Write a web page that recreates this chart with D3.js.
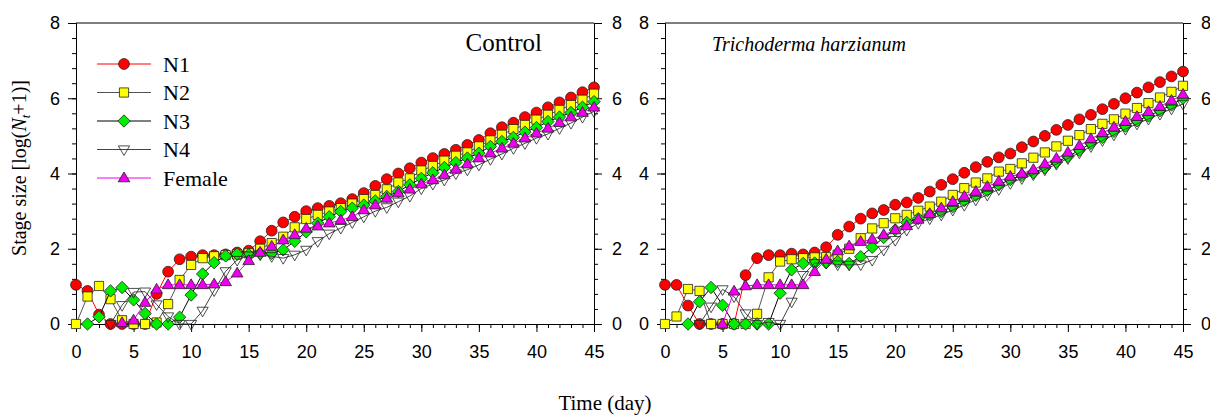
<!DOCTYPE html>
<html>
<head>
<meta charset="utf-8">
<script src="https://cdn.jsdelivr.net/npm/d3@7"></script>
<style>
  body { margin: 0; background: #fff; }
  .axis path, .axis line { stroke: #000; stroke-width: 1; }
  .axis text { font-family: "Liberation Sans", Arial, sans-serif; font-size: 18px; fill: #000; }
  .serif { font-family: "Liberation Serif", "Times New Roman", serif; fill: #000; }
</style>
</head>
<body>
<svg id="chart" width="1210" height="417"></svg>
<script>
const days = [0,1,2,3,4,5,6,7,8,9,10,11,12,13,14,15,16,17,18,19,20,21,22,23,24,25,26,27,28,29,30,31,32,33,34,35,36,37,38,39,40,41,42,43,44,45];
const xTicks = [0,5,10,15,20,25,30,35,40,45];
const yTicks = [0,2,4,6,8];
const seriesNames = ["N1","N2","N3","N4","Female"];

// Control (null = not plotted yet)
const controlN1 = [1.04,0.88,0.25,0,0,0,0,0.8,1.39,1.72,1.79,1.83,1.83,1.85,1.9,1.95,2.2,2.48,2.7,2.85,3.0,3.08,3.14,3.21,3.32,3.48,3.67,3.85,4.0,4.14,4.29,4.41,4.52,4.63,4.76,4.89,5.07,5.23,5.35,5.5,5.62,5.76,5.89,6.02,6.16,6.29];
const controlN2 = [0,0.73,1.01,0.66,0.1,0,0,0.04,0.53,1.17,1.57,1.75,1.8,1.83,1.85,1.88,2.0,2.15,2.32,2.57,2.79,2.9,2.99,3.08,3.2,3.32,3.43,3.58,3.76,3.87,4.08,4.2,4.34,4.47,4.56,4.72,4.88,5.03,5.18,5.29,5.43,5.56,5.69,5.82,5.96,6.12];
const controlN3 = [null,0,0.19,0.88,0.97,0.64,0.28,0,0,0.18,0.77,1.33,1.63,1.81,1.86,1.84,1.88,1.88,1.97,2.2,2.45,2.68,2.85,2.99,3.08,3.16,3.27,3.39,3.52,3.7,3.87,4.02,4.16,4.29,4.41,4.54,4.72,4.85,4.96,5.1,5.22,5.38,5.5,5.62,5.76,5.91];
const controlN4 = [null,null,null,0,0.5,0.85,0.86,0.52,0.2,0,0,0.35,0.89,1.4,1.7,1.82,1.84,1.8,1.75,1.84,1.97,2.2,2.4,2.55,2.7,2.85,3.0,3.1,3.25,3.4,3.6,3.72,3.83,4.0,4.1,4.23,4.38,4.52,4.67,4.8,4.94,5.05,5.2,5.34,5.5,5.65];
const controlFemale = [null,null,null,null,0.03,0.1,0.57,0.92,1.04,1.04,1.04,1.04,1.06,1.12,1.35,1.68,1.9,2.06,2.23,2.37,2.54,2.6,2.68,2.76,2.85,3.03,3.16,3.34,3.48,3.58,3.72,3.83,3.96,4.11,4.25,4.41,4.54,4.67,4.8,4.94,5.07,5.2,5.35,5.5,5.62,5.76];

// Trichoderma harzianum
const trichoN1 = [1.04,1.04,0.49,0,0,0,0,1.3,1.75,1.83,1.83,1.87,1.85,1.9,2.04,2.37,2.59,2.8,2.94,3.03,3.17,3.23,3.35,3.52,3.7,3.85,4.02,4.17,4.31,4.43,4.53,4.7,4.85,5.0,5.16,5.29,5.44,5.56,5.71,5.85,6.0,6.15,6.29,6.43,6.58,6.71];
const trichoN2 = [0,0.2,0.93,0.88,0,0,0,0,0.27,1.24,1.66,1.72,1.75,1.77,1.78,1.84,2.0,2.28,2.54,2.68,2.81,2.9,3.01,3.12,3.25,3.43,3.61,3.76,3.87,4.05,4.12,4.27,4.42,4.56,4.72,4.87,5.02,5.18,5.32,5.44,5.59,5.74,5.87,6.02,6.17,6.33];
const trichoN3 = [null,null,0,0.59,0.97,0.5,0,0,0,0,0.82,1.44,1.61,1.62,1.63,1.66,1.61,1.79,2.04,2.3,2.5,2.7,2.8,2.9,2.99,3.12,3.28,3.42,3.55,3.7,3.84,3.95,4.02,4.15,4.3,4.45,4.62,4.8,4.96,5.12,5.26,5.4,5.53,5.67,5.82,6.0];
const trichoN4 = [null,null,null,0,0.46,0.92,0.73,0.28,0,0.05,0,0.59,1.3,1.62,1.62,1.58,1.57,1.58,1.7,1.97,2.23,2.5,2.68,2.8,2.9,3.03,3.16,3.3,3.43,3.58,3.74,3.87,3.97,4.1,4.25,4.4,4.55,4.72,4.88,5.03,5.18,5.32,5.45,5.58,5.72,5.85];
const trichoFemale = [null,null,null,null,null,0,0.87,1.01,1.04,1.04,1.04,1.04,1.04,1.39,1.72,1.94,2.07,2.19,2.25,2.37,2.5,2.61,2.78,2.93,3.08,3.25,3.39,3.52,3.65,3.79,3.92,4.0,4.1,4.25,4.4,4.56,4.74,4.92,5.08,5.23,5.38,5.51,5.64,5.78,5.94,6.1];

const styles = {
  N1:     { fill: "#ff0000", line: "#ff0000", shape: "circle" },
  N2:     { fill: "#ffff00", line: "#555555", shape: "square" },
  N3:     { fill: "#00ee00", line: "#000000", shape: "diamond" },
  N4:     { fill: "none",    line: "#444444", shape: "triDown" },
  Female: { fill: "#ee00ee", line: "#ee00ee", shape: "triUp" }
};

const W = 518, H = 301;
const svg = d3.select("#chart");
const x = d3.scaleLinear().domain([0, 45]).range([0, W]);
const y = d3.scaleLinear().domain([0, 8]).range([H, 0]);

function shapePath(shape) {
  if (shape === "circle") return "M5.4,0A5.4,5.4 0 1,1 -5.4,0A5.4,5.4 0 1,1 5.4,0Z";
  if (shape === "square") return "M-4.6,-4.6H4.6V4.6H-4.6Z";
  if (shape === "diamond") return "M0,-6.2L6.2,0L0,6.2L-6.2,0Z";
  if (shape === "triDown") return "M-5.6,-3.6H5.6L0,6Z";
  return "M0,-6L5.8,3.8H-5.8Z";
}

function drawPanel(left, title, italic, data, legend) {
  const g = svg.append("g").attr("transform", `translate(${left},23)`);

  const yMinor = d3.range(0, 21).map(i => i * 0.4);
  g.append("g").attr("class", "axis")
    .call(d3.axisLeft(y).tickValues(yMinor).tickSize(4).tickFormat("").tickSizeOuter(0));
  g.append("g").attr("class", "axis")
    .call(d3.axisLeft(y).tickValues(yTicks).tickSize(8).tickPadding(8).tickSizeOuter(0));
  g.append("g").attr("class", "axis").attr("transform", `translate(${W},0)`)
    .call(d3.axisRight(y).tickValues(yMinor).tickSize(4).tickFormat("").tickSizeOuter(0));
  g.append("g").attr("class", "axis").attr("transform", `translate(${W},0)`)
    .call(d3.axisRight(y).tickValues(yTicks).tickSize(8).tickPadding(10).tickSizeOuter(0));
  g.append("g").attr("class", "axis").attr("transform", `translate(0,${H})`)
    .call(d3.axisBottom(x).tickValues(days).tickSize(4).tickFormat("").tickSizeOuter(0));
  g.append("g").attr("class", "axis").attr("transform", `translate(0,${H})`)
    .call(d3.axisBottom(x).tickValues(xTicks).tickSize(8).tickPadding(13).tickSizeOuter(0));

  g.append("line").attr("x1", 0).attr("x2", W).attr("y1", 0).attr("y2", 0)
    .attr("stroke", "#000").attr("stroke-width", 1);

  const line = d3.line()
    .defined(d => d !== null)
    .x((d, i) => x(days[i]))
    .y(d => y(d));

  seriesNames.forEach(name => {
    const s = styles[name];
    g.append("path").datum(data[name])
      .attr("fill", "none").attr("stroke", s.line).attr("stroke-width", 1)
      .attr("d", line);
    const pts = data[name].map((v, i) => ({ day: days[i], v })).filter(p => p.v !== null);
    g.append("g").selectAll("path").data(pts).join("path")
      .attr("transform", p => `translate(${x(p.day)},${y(p.v)})`)
      .attr("d", shapePath(s.shape))
      .attr("fill", s.fill)
      .attr("stroke", "#222").attr("stroke-width", 0.8);
  });

  const t = g.append("text").attr("class", "serif").text(title);
  if (italic) {
    t.attr("x", 47).attr("y", 28).style("font-style", "italic").style("font-size", "20px");
  } else {
    t.attr("x", 466).attr("y", 28).attr("text-anchor", "end").style("font-size", "25px");
  }

  if (legend) {
    seriesNames.forEach((name, i) => {
      const ly = 41 + i * 28.5;
      g.append("line").attr("x1", 21).attr("x2", 75).attr("y1", ly).attr("y2", ly)
        .attr("stroke", styles[name].line).attr("stroke-width", 1);
      g.append("path").attr("transform", `translate(48,${ly})`)
        .attr("d", shapePath(styles[name].shape))
        .attr("fill", styles[name].fill).attr("stroke", "#222").attr("stroke-width", 0.8);
      g.append("text").attr("class", "serif").attr("x", 87).attr("y", ly).attr("dy", "0.35em")
        .style("font-size", "22px").text(name);
    });
  }
}

drawPanel(76, "Control", false,
  { N1: controlN1, N2: controlN2, N3: controlN3, N4: controlN4, Female: controlFemale }, true);
drawPanel(665, "Trichoderma harzianum", true,
  { N1: trichoN1, N2: trichoN2, N3: trichoN3, N4: trichoN4, Female: trichoFemale }, false);

svg.append("text").attr("class", "serif").attr("x", 605).attr("y", 410)
  .attr("text-anchor", "middle").style("font-size", "21px").text("Time (day)");

const yl = svg.append("text").attr("class", "serif")
  .attr("transform", "translate(26,168) rotate(-90)")
  .attr("text-anchor", "middle").style("font-size", "20px");
yl.append("tspan").text("Stage size [log(");
yl.append("tspan").style("font-style", "italic").text("N");
yl.append("tspan").style("font-style", "italic").style("font-size", "13px").attr("dy", 4).text("t");
yl.append("tspan").attr("dy", -4).text("+1)]");
</script>
</body>
</html>
